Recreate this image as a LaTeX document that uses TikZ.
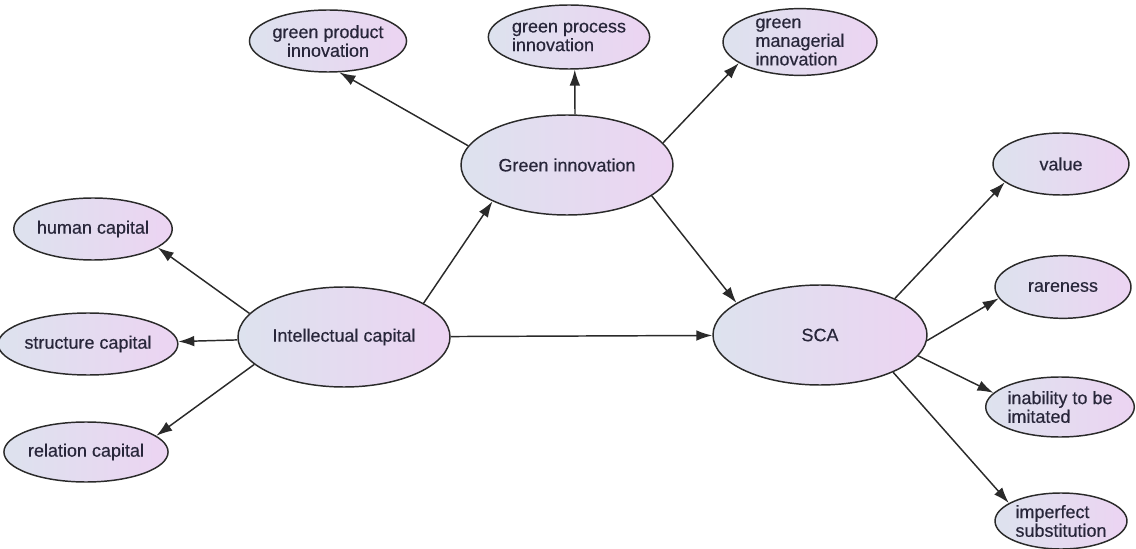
\documentclass[tikz,border=0pt]{standalone}
\usepackage{fontspec}
\setmainfont[FakeBold=0.4]{Liberation Sans}
\usepackage{tikz}
\usetikzlibrary{shapes.geometric,arrows.meta}
\definecolor{edge}{HTML}{2A2A2A}
\definecolor{ink}{HTML}{28263A}
\definecolor{fillL}{HTML}{DDE2EE}
\definecolor{fillR}{HTML}{ECD4F2}
\tikzset{
  var/.style={ellipse, draw=edge, line width=1.1pt, left color=fillL, right color=fillR,
    inner sep=0pt, text=ink, font=\fontsize{13.5}{14}\selectfont},
  link/.style={draw=edge, line width=1.1pt, -{Latex[length=12pt,width=8pt]}},
}
\begin{document}
\begin{tikzpicture}[x=0.75pt,y=-0.75pt]
  \useasboundingbox (0,0) rectangle (1136,549);

  % latent variables
  \node[var,minimum width=159pt,minimum height=75pt] (ic) at (344,337) {Intellectual capital};
  \node[var,minimum width=159pt,minimum height=75pt] (gi) at (567,165) {Green innovation};
  \node[var,minimum width=160.5pt,minimum height=75pt] (sca) at (820,335) {SCA};

  % dimensions of intellectual capital
  \node[var,minimum width=117pt,minimum height=46.5pt] (hc) at (93,229) {human capital};
  \node[var,minimum width=117pt,minimum height=46.5pt] (sc) at (88,344) {structure capital};
  \node[var,minimum width=114pt,minimum height=45pt] (rc) at (86,452) {relation capital};

  % dimensions of green innovation
  \node[var,minimum width=112.5pt,minimum height=46.5pt,align=center] (gprod) at (328,41) {green product\\innovation};
  \node[var,minimum width=115.5pt,minimum height=48pt,align=left] (gproc) at (569,37) {green process\\innovation};
  \node[var,minimum width=115.5pt,minimum height=48pt,align=left] (gman) at (800,42) {green\\managerial\\innovation};

  % dimensions of SCA
  \node[var,minimum width=102pt,minimum height=46.5pt] (val) at (1061,164) {value};
  \node[var,minimum width=102pt,minimum height=47pt] (rare) at (1063,287) {rareness};
  \node[var,minimum width=102pt,minimum height=45pt,align=left] (inab) at (1060,407) {inability to be\\imitated};
  \node[var,minimum width=99pt,minimum height=42pt,align=left] (imp) at (1061,521) {imperfect\\substitution};

  \draw[link] (ic.23) -- (gi.206);
  \draw[link] (ic) -- (sca);
  \draw[link] (gi.340) -- (sca.159);

  \draw[link] (ic.166) -- (hc.344);
  \draw[link] (ic) -- (sc);
  \draw[link] (ic.197) -- (rc.13);

  \draw[link] (gi.169) -- (gprod.290);
  \draw[link] (gi.81) -- (gproc.280);
  \draw[link] (gi.13) -- (gman.199);

  \draw[link] (sca.26) -- (val.198);
  \draw[link] (sca.357) -- (rare.190);
  \draw[link] (sca.348) -- (inab.168);
  \draw[link] (sca.333) -- (imp.161);
\end{tikzpicture}
\end{document}
